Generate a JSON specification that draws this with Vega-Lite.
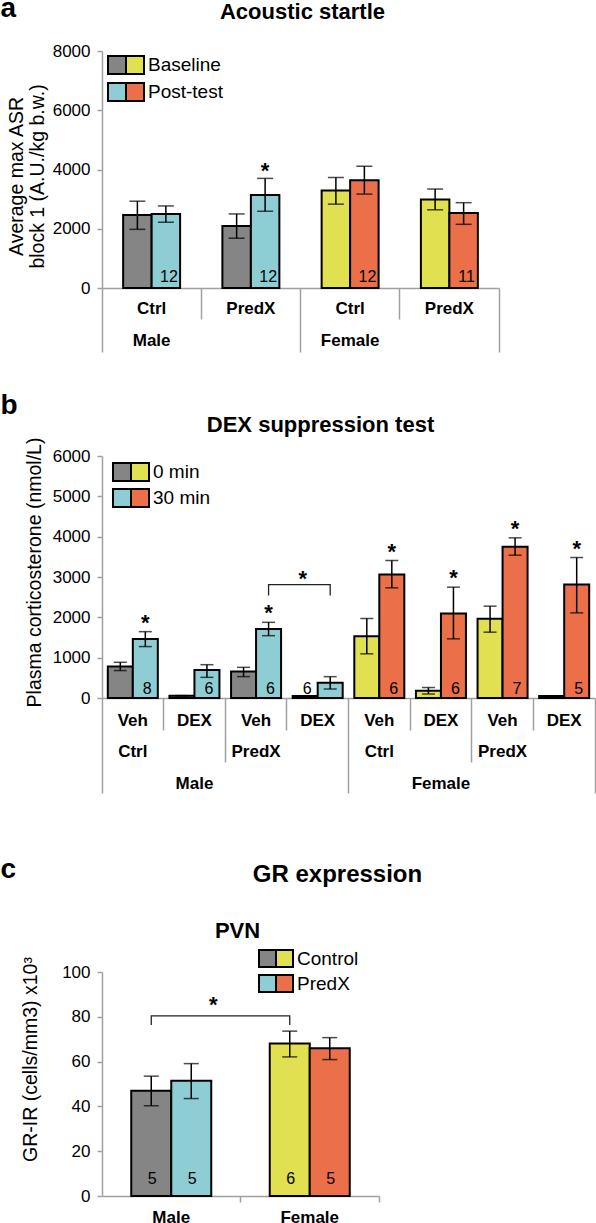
{
"$schema":"https://vega.github.io/schema/vega-lite/v6.json",
"padding":{"left":0,"top":-6,"right":0,"bottom":0},
"background":"white",
"config":{
 "font":"Liberation Sans",
 "view":{"stroke":null},
 "axis":{"grid":false,"domainColor":"#A0A0A0","domainWidth":1.5,"tickColor":"#A0A0A0","tickWidth":1.5,"labelColor":"black","titleColor":"black","labelOverlap":false},
 "axisX":{"labelAngle":0,"labelFontSize":17,"labelFontWeight":"bold","labelBaseline":"middle"},
 "axisY":{"labelFontSize":17,"tickSize":5,"labelPadding":7,"titleFontSize":19.5,"titleFontWeight":"normal"},
 "legend":{"orient":"none","symbolType":"square","symbolStrokeColor":"black","symbolStrokeWidth":2,"symbolOpacity":1,"padding":0,"rowPadding":0,"labelFontSize":19,"labelColor":"black","labelOffset":3}
},
"resolve":{"scale":{"xOffset":"independent","fill":"independent"},"legend":{"fill":"independent"}},
"datasets":{
 "A":[
  {"sex":"Male","grp":"Male|Ctrl","period":"Baseline","mean":2460,"lo":1980,"hi":2930},
  {"sex":"Male","grp":"Male|Ctrl","period":"Post-test","mean":2500,"lo":2220,"hi":2770,"n":"12"},
  {"sex":"Male","grp":"Male|PredX","period":"Baseline","mean":2090,"lo":1680,"hi":2500},
  {"sex":"Male","grp":"Male|PredX","period":"Post-test","mean":3140,"lo":2590,"hi":3700,"n":"12","star":true},
  {"sex":"Female","grp":"Female|Ctrl","period":"Baseline","mean":3290,"lo":2830,"hi":3730},
  {"sex":"Female","grp":"Female|Ctrl","period":"Post-test","mean":3640,"lo":3170,"hi":4110,"n":"12"},
  {"sex":"Female","grp":"Female|PredX","period":"Baseline","mean":2990,"lo":2640,"hi":3340},
  {"sex":"Female","grp":"Female|PredX","period":"Post-test","mean":2530,"lo":2150,"hi":2880,"n":"11"}
 ],
 "B":[
  {"sex":"Male","grp":"Male|Ctrl|Veh","period":"0 min","mean":780,"lo":680,"hi":885},
  {"sex":"Male","grp":"Male|Ctrl|Veh","period":"30 min","mean":1465,"lo":1275,"hi":1645,"n":"8","star":true},
  {"sex":"Male","grp":"Male|Ctrl|DEX","period":"0 min","mean":58,"lo":58,"hi":58},
  {"sex":"Male","grp":"Male|Ctrl|DEX","period":"30 min","mean":695,"lo":512,"hi":826,"n":"6"},
  {"sex":"Male","grp":"Male|PredX|Veh","period":"0 min","mean":655,"lo":530,"hi":760},
  {"sex":"Male","grp":"Male|PredX|Veh","period":"30 min","mean":1710,"lo":1545,"hi":1876,"n":"6","star":true},
  {"sex":"Male","grp":"Male|PredX|DEX","period":"0 min","mean":50,"lo":50,"hi":50,"n":"6"},
  {"sex":"Male","grp":"Male|PredX|DEX","period":"30 min","mean":380,"lo":223,"hi":529},
  {"sex":"Female","grp":"Female|Ctrl|Veh","period":"0 min","mean":1533,"lo":1095,"hi":1971},
  {"sex":"Female","grp":"Female|Ctrl|Veh","period":"30 min","mean":3062,"lo":2731,"hi":3409,"n":"6","star":true},
  {"sex":"Female","grp":"Female|Ctrl|DEX","period":"0 min","mean":180,"lo":99,"hi":260},
  {"sex":"Female","grp":"Female|Ctrl|DEX","period":"30 min","mean":2095,"lo":1467,"hi":2748,"n":"6","star":true},
  {"sex":"Female","grp":"Female|PredX|Veh","period":"0 min","mean":1963,"lo":1632,"hi":2277},
  {"sex":"Female","grp":"Female|PredX|Veh","period":"30 min","mean":3748,"lo":3541,"hi":3971,"n":"7","star":true},
  {"sex":"Female","grp":"Female|PredX|DEX","period":"0 min","mean":50,"lo":50,"hi":50},
  {"sex":"Female","grp":"Female|PredX|DEX","period":"30 min","mean":2814,"lo":2111,"hi":3483,"n":"5","star":true}
 ],
 "Bbracket":[
  {"grp":"Male|PredX|Veh","period":"30 min","v":2540,"o":1},
  {"grp":"Male|PredX|Veh","period":"30 min","v":2810,"o":2},
  {"grp":"Male|PredX|DEX","period":"30 min","v":2810,"o":3},
  {"grp":"Male|PredX|DEX","period":"30 min","v":2540,"o":4}
 ],
 "Bstar":[{"grp":"Male|PredX|DEX","period":"0 min","v":2810}],
 "C":[
  {"sex":"Male","grp":"Male","cond":"Control","mean":47.0,"lo":40.3,"hi":53.5,"n":"5"},
  {"sex":"Male","grp":"Male","cond":"PredX","mean":51.4,"lo":43.5,"hi":59.1,"n":"5"},
  {"sex":"Female","grp":"Female","cond":"Control","mean":68.1,"lo":62.1,"hi":73.6,"n":"6"},
  {"sex":"Female","grp":"Female","cond":"PredX","mean":66.0,"lo":60.9,"hi":70.7,"n":"5"}
 ],
 "Cbracket":[
  {"grp":"Male","cond":"Control","v":76.3,"o":1},
  {"grp":"Male","cond":"Control","v":80.4,"o":2},
  {"grp":"Female","cond":"Control","v":80.4,"o":3},
  {"grp":"Female","cond":"Control","v":76.3,"o":4}
 ],
 "Cstar":[{"grp":"Male","cond":"PredX","v":80.4}]
},
"bounds":"flush",
"spacing":168,
"vconcat":[
  {
   "width":397,"height":237,
   "data":{"name":"A"},
   "resolve":{"scale":{"fill":"independent"},"axis":{"x":"independent","y":"independent"}},
   "encoding":{
    "xOffset":{"field":"period","type":"nominal","scale":{"type":"band","domain":["Baseline","Post-test"],"paddingInner":0,"paddingOuter":0.742}}
   },
   "layer":[
    {"transform":[{"filter":"datum.sex=='Male'"}],
     "mark":{"type":"bar","stroke":"black","strokeWidth":2},
     "encoding":{
      "x":{"field":"grp","type":"nominal","scale":{"type":"band","domain":["Male|Ctrl","Male|PredX","Female|Ctrl","Female|PredX"],"paddingInner":0,"paddingOuter":0},
           "axis":{"orient":"bottom","title":null,"ticks":false,"labelExpr":"split(datum.value,'|')[1]","labelPadding":20}},
      "y":{"field":"mean","type":"quantitative","scale":{"domain":[0,8000],"nice":false},
           "axis":{"orient":"left","values":[0,2000,4000,6000,8000],"format":"d","title":["Average max ASR","block 1 (A.U./kg b.w.)"],"titlePadding":5,"titleLineHeight":21,"titleY":125}},
      "fill":{"field":"period","type":"nominal","scale":{"domain":["Baseline","Post-test"],"range":["#858585","#8FCDD5"]},
              "legend":{"title":null,"legendX":5,"legendY":4,"symbolSize":324,"labelExpr":"''","labelOffset":0,"rowPadding":1}}
     }},
    {"transform":[{"filter":"datum.sex=='Female'"}],
     "mark":{"type":"bar","stroke":"black","strokeWidth":2},
     "encoding":{
      "x":{"field":"grp","type":"nominal","scale":{"type":"band","domain":["Male|Ctrl","Male|PredX","Female|Ctrl","Female|PredX"],"paddingInner":0,"paddingOuter":0},
           "axis":{"orient":"bottom","title":null,"bandPosition":1,"domain":false,"tickSize":31,
                   "tickOpacity":{"condition":{"test":"split(datum.value,'|')[1]=='Ctrl'","value":1},"value":0},
                   "labelExpr":"split(datum.value,'|')[1]=='Ctrl' ? split(datum.value,'|')[0] : ''","labelPadding":21}},
      "y":{"field":"mean","type":"quantitative","scale":{"domain":[0,8000],"nice":false},"axis":null},
      "fill":{"field":"period","type":"nominal","scale":{"domain":["Baseline","Post-test"],"range":["#E0E050","#EB6F48"]},
              "legend":{"title":null,"legendX":23,"legendY":4,"symbolSize":324,"rowPadding":1}}
     }},
    {"mark":{"type":"rule","color":"black","strokeWidth":1.5},
     "encoding":{
      "x":{"field":"grp","type":"nominal","scale":{"type":"band","domain":["Male|Ctrl","Male|PredX","Female|Ctrl","Female|PredX"],"paddingInner":0,"paddingOuter":0},
           "axis":{"orient":"bottom","title":null,"bandPosition":1,"domain":false,"labels":false,"tickSize":64,
                   "tickOpacity":{"condition":{"test":"split(datum.value,'|')[1]=='PredX'","value":1},"value":0}}},
      "y":{"field":"lo","type":"quantitative","scale":{"domain":[0,8000],"nice":false},"axis":null},
      "y2":{"field":"hi"}
     }},
    {"mark":{"type":"tick","color":"black","thickness":1.5,"size":16},
     "encoding":{
      "x":{"field":"grp","type":"nominal","scale":{"type":"band","domain":["Male|Ctrl","Male|PredX","Female|Ctrl","Female|PredX"],"paddingInner":0,"paddingOuter":0},
           "axis":{"orient":"bottom","title":null,"bandPosition":0,"domain":false,"labels":false,"tickSize":64,
                   "tickOpacity":{"condition":{"test":"datum.value=='Male|Ctrl'","value":1},"value":0}}},
      "y":{"field":"lo","type":"quantitative","scale":{"domain":[0,8000],"nice":false},"axis":null}
     }},
    {"mark":{"type":"tick","color":"black","thickness":1.5,"size":16},
     "encoding":{
      "x":{"field":"grp","type":"nominal","scale":{"type":"band","domain":["Male|Ctrl","Male|PredX","Female|Ctrl","Female|PredX"],"paddingInner":0,"paddingOuter":0},
           "axis":{"orient":"top","labels":false,"ticks":false,"domain":false,"title":"Acoustic startle","titleX":200,"titleY":-40,"titleAlign":"center","titleBaseline":"middle","titleFontSize":22,"titleFontWeight":"bold","titleAngle":0}},
      "y":{"field":"hi","type":"quantitative","scale":{"domain":[0,8000],"nice":false},"axis":null}
     }},
    {"transform":[{"filter":"datum.n != null"}],
     "mark":{"type":"text","fontSize":16,"baseline":"alphabetic","dy":-6.5,"dx":3,"color":"black"},
     "encoding":{
      "x":{"field":"grp","type":"nominal","scale":{"type":"band","domain":["Male|Ctrl","Male|PredX","Female|Ctrl","Female|PredX"],"paddingInner":0,"paddingOuter":0},
           "axis":{"orient":"top","labels":false,"ticks":false,"domain":false,"title":"a","titleX":-102,"titleY":-35,"titleAlign":"left","titleBaseline":"alphabetic","titleFontSize":28,"titleFontWeight":"bold","titleAngle":0}},
      "y":{"datum":0,"type":"quantitative","scale":{"domain":[0,8000],"nice":false},"axis":null},
      "text":{"field":"n"}
     }},
    {"transform":[{"filter":"datum.star"}],
     "mark":{"type":"text","text":"*","fontSize":22,"fontWeight":"bold","baseline":"alphabetic","dy":0,"color":"black"},
     "encoding":{
      "x":{"field":"grp","type":"nominal","scale":{"type":"band","domain":["Male|Ctrl","Male|PredX","Female|Ctrl","Female|PredX"],"paddingInner":0,"paddingOuter":0},"axis":null},
      "y":{"field":"hi","type":"quantitative","scale":{"domain":[0,8000],"nice":false},"axis":null}
     }}
   ]
  },
  {
   "width":493,"height":242,
   "data":{"name":"B"},
   "resolve":{"scale":{"fill":"independent"},"axis":{"x":"independent","y":"independent"}},
   "encoding":{
    "xOffset":{"field":"period","type":"nominal","scale":{"type":"band","domain":["0 min","30 min"],"paddingInner":0,"paddingOuter":0.232}}
   },
   "layer":[
    {"transform":[{"filter":"datum.sex=='Male'"}],
     "mark":{"type":"bar","stroke":"black","strokeWidth":2},
     "encoding":{
      "x":{"field":"grp","type":"nominal","scale":{"type":"band","domain":["Male|Ctrl|Veh","Male|Ctrl|DEX","Male|PredX|Veh","Male|PredX|DEX","Female|Ctrl|Veh","Female|Ctrl|DEX","Female|PredX|Veh","Female|PredX|DEX"],"paddingInner":0,"paddingOuter":0},
           "axis":{"orient":"bottom","title":null,"ticks":false,"labelExpr":"split(datum.value,'|')[2]","labelPadding":22}},
      "y":{"field":"mean","type":"quantitative","scale":{"domain":[0,6000],"nice":false},
           "axis":{"orient":"left","values":[0,1000,2000,3000,4000,5000,6000],"format":"d","title":"Plasma corticosterone (nmol/L)","titlePadding":8,"titleY":116}},
      "fill":{"field":"period","type":"nominal","scale":{"domain":["0 min","30 min"],"range":["#858585","#8FCDD5"]},
              "legend":{"title":null,"legendX":10,"legendY":6,"symbolSize":324,"labelExpr":"''","labelOffset":0,"rowPadding":0}}
     }},
    {"transform":[{"filter":"datum.sex=='Female'"}],
     "mark":{"type":"bar","stroke":"black","strokeWidth":2},
     "encoding":{
      "x":{"field":"grp","type":"nominal","scale":{"type":"band","domain":["Male|Ctrl|Veh","Male|Ctrl|DEX","Male|PredX|Veh","Male|PredX|DEX","Female|Ctrl|Veh","Female|Ctrl|DEX","Female|PredX|Veh","Female|PredX|DEX"],"paddingInner":0,"paddingOuter":0},
           "axis":{"orient":"bottom","title":null,"bandPosition":1,"domain":false,"tickSize":32,
                   "tickOpacity":{"condition":{"test":"split(datum.value,'|')[2]=='Veh'","value":1},"value":0},
                   "labelExpr":"split(datum.value,'|')[2]=='Veh' ? split(datum.value,'|')[1] : ''","labelPadding":21}},
      "y":{"field":"mean","type":"quantitative","scale":{"domain":[0,6000],"nice":false},"axis":null},
      "fill":{"field":"period","type":"nominal","scale":{"domain":["0 min","30 min"],"range":["#E0E050","#EB6F48"]},
              "legend":{"title":null,"legendX":28,"legendY":6,"symbolSize":324,"rowPadding":0}}
     }},
    {"mark":{"type":"rule","color":"black","strokeWidth":1.5},
     "encoding":{
      "x":{"field":"grp","type":"nominal","scale":{"type":"band","domain":["Male|Ctrl|Veh","Male|Ctrl|DEX","Male|PredX|Veh","Male|PredX|DEX","Female|Ctrl|Veh","Female|Ctrl|DEX","Female|PredX|Veh","Female|PredX|DEX"],"paddingInner":0,"paddingOuter":0},
           "axis":{"orient":"bottom","title":null,"bandPosition":1,"domain":false,"tickSize":64,
                   "tickOpacity":{"condition":{"test":"split(datum.value,'|')[1]=='Ctrl' && split(datum.value,'|')[2]=='DEX'","value":1},"value":0},
                   "labelExpr":"(split(datum.value,'|')[1]=='Ctrl' && split(datum.value,'|')[2]=='DEX') ? split(datum.value,'|')[0] : ''","labelPadding":21}},
      "y":{"field":"lo","type":"quantitative","scale":{"domain":[0,6000],"nice":false},"axis":null},
      "y2":{"field":"hi"}
     }},
    {"mark":{"type":"tick","color":"black","thickness":1.5,"size":13},
     "encoding":{
      "x":{"field":"grp","type":"nominal","scale":{"type":"band","domain":["Male|Ctrl|Veh","Male|Ctrl|DEX","Male|PredX|Veh","Male|PredX|DEX","Female|Ctrl|Veh","Female|Ctrl|DEX","Female|PredX|Veh","Female|PredX|DEX"],"paddingInner":0,"paddingOuter":0},
           "axis":{"orient":"bottom","title":null,"bandPosition":1,"domain":false,"labels":false,"tickSize":95,
                   "tickOpacity":{"condition":{"test":"split(datum.value,'|')[1]=='PredX' && split(datum.value,'|')[2]=='DEX'","value":1},"value":0}}},
      "y":{"field":"lo","type":"quantitative","scale":{"domain":[0,6000],"nice":false},"axis":null}
     }},
    {"mark":{"type":"tick","color":"black","thickness":1.5,"size":13},
     "encoding":{
      "x":{"field":"grp","type":"nominal","scale":{"type":"band","domain":["Male|Ctrl|Veh","Male|Ctrl|DEX","Male|PredX|Veh","Male|PredX|DEX","Female|Ctrl|Veh","Female|Ctrl|DEX","Female|PredX|Veh","Female|PredX|DEX"],"paddingInner":0,"paddingOuter":0},
           "axis":{"orient":"bottom","title":null,"bandPosition":0,"domain":false,"labels":false,"tickSize":95,
                   "tickOpacity":{"condition":{"test":"datum.value=='Male|Ctrl|Veh'","value":1},"value":0}}},
      "y":{"field":"hi","type":"quantitative","scale":{"domain":[0,6000],"nice":false},"axis":null}
     }},
    {"transform":[{"filter":"datum.n != null"}],
     "mark":{"type":"text","fontSize":16,"baseline":"alphabetic","dy":-4,"dx":2,"color":"black"},
     "encoding":{
      "x":{"field":"grp","type":"nominal","scale":{"type":"band","domain":["Male|Ctrl|Veh","Male|Ctrl|DEX","Male|PredX|Veh","Male|PredX|DEX","Female|Ctrl|Veh","Female|Ctrl|DEX","Female|PredX|Veh","Female|PredX|DEX"],"paddingInner":0,"paddingOuter":0},
           "axis":{"orient":"top","labels":false,"ticks":false,"domain":false,"title":"DEX suppression test","titleX":218,"titleY":-32,"titleAlign":"center","titleBaseline":"middle","titleFontSize":22,"titleFontWeight":"bold","titleAngle":0}},
      "y":{"datum":0,"type":"quantitative","scale":{"domain":[0,6000],"nice":false},"axis":null},
      "text":{"field":"n"}
     }},
    {"transform":[{"filter":"datum.star"}],
     "mark":{"type":"text","text":"*","fontSize":22,"fontWeight":"bold","baseline":"alphabetic","dy":-2,"color":"black"},
     "encoding":{
      "x":{"field":"grp","type":"nominal","scale":{"type":"band","domain":["Male|Ctrl|Veh","Male|Ctrl|DEX","Male|PredX|Veh","Male|PredX|DEX","Female|Ctrl|Veh","Female|Ctrl|DEX","Female|PredX|Veh","Female|PredX|DEX"],"paddingInner":0,"paddingOuter":0},
           "axis":{"orient":"top","labels":false,"ticks":false,"domain":false,"title":"b","titleX":-102,"titleY":-43,"titleAlign":"left","titleBaseline":"alphabetic","titleFontSize":28,"titleFontWeight":"bold","titleAngle":0}},
      "y":{"field":"hi","type":"quantitative","scale":{"domain":[0,6000],"nice":false},"axis":null}
     }},
    {"data":{"name":"Bbracket"},
     "mark":{"type":"line","color":"#222222","strokeWidth":1.3},
     "encoding":{
      "x":{"field":"grp","type":"nominal","scale":{"type":"band","domain":["Male|Ctrl|Veh","Male|Ctrl|DEX","Male|PredX|Veh","Male|PredX|DEX","Female|Ctrl|Veh","Female|Ctrl|DEX","Female|PredX|Veh","Female|PredX|DEX"],"paddingInner":0,"paddingOuter":0},"axis":null},
      "y":{"field":"v","type":"quantitative","scale":{"domain":[0,6000],"nice":false},"axis":null},
      "order":{"field":"o","type":"quantitative"}
     }},
    {"data":{"name":"Bstar"},
     "mark":{"type":"text","text":"*","fontSize":22,"fontWeight":"bold","baseline":"alphabetic","dy":1,"dx":-2.5,"color":"black"},
     "encoding":{
      "x":{"field":"grp","type":"nominal","scale":{"type":"band","domain":["Male|Ctrl|Veh","Male|Ctrl|DEX","Male|PredX|Veh","Male|PredX|DEX","Female|Ctrl|Veh","Female|Ctrl|DEX","Female|PredX|Veh","Female|PredX|DEX"],"paddingInner":0,"paddingOuter":0},"axis":null},
      "y":{"field":"v","type":"quantitative","scale":{"domain":[0,6000],"nice":false},"axis":null}
     }}
   ]
  },
 {
  "width":277,"height":330,
  "data":{"name":"C"},
  "resolve":{"scale":{"fill":"independent"},"axis":{"x":"independent","y":"independent"}},
  "encoding":{
   "xOffset":{"field":"cond","type":"nominal","scale":{"type":"band","domain":["Control","PredX"],"paddingInner":0,"paddingOuter":0.731}}
  },
  "layer":[
   {"transform":[{"filter":"datum.sex=='Male'"}],
    "mark":{"type":"bar","stroke":"black","strokeWidth":2},
    "encoding":{
     "x":{"field":"grp","type":"nominal","scale":{"type":"band","domain":["Male","Female"],"paddingInner":0,"paddingOuter":0},
          "axis":{"orient":"bottom","title":null,"ticks":false,"labelPadding":21}},
     "y":{"field":"mean","type":"quantitative","scale":{"domain":[0,100],"nice":false,"range":[330,106]},
          "axis":{"orient":"left","values":[0,20,40,60,80,100],"format":"d","title":"GR-IR (cells/mm3) x10³","titlePadding":21,"titleY":193}},
     "fill":{"field":"cond","type":"nominal","scale":{"domain":["Control","PredX"],"range":["#858585","#8FCDD5"]},
             "legend":{"title":null,"legendX":156,"legendY":83,"symbolSize":289,"labelExpr":"''","labelOffset":0,"rowPadding":0}}
    }},
   {"transform":[{"filter":"datum.sex=='Female'"}],
    "mark":{"type":"bar","stroke":"black","strokeWidth":2},
    "encoding":{
     "x":{"field":"grp","type":"nominal","scale":{"type":"band","domain":["Male","Female"],"paddingInner":0,"paddingOuter":0},
          "axis":{"orient":"bottom","title":null,"bandPosition":1,"domain":false,"labels":false,"tickSize":6}},
     "y":{"field":"mean","type":"quantitative","scale":{"domain":[0,100],"nice":false,"range":[330,106]},"axis":null},
     "fill":{"field":"cond","type":"nominal","scale":{"domain":["Control","PredX"],"range":["#E0E050","#EB6F48"]},
             "legend":{"title":null,"legendX":173,"legendY":83,"symbolSize":289,"rowPadding":0}}
    }},
   {"mark":{"type":"rule","color":"black","strokeWidth":1.5},
    "encoding":{
     "x":{"field":"grp","type":"nominal","scale":{"type":"band","domain":["Male","Female"],"paddingInner":0,"paddingOuter":0},
          "axis":{"orient":"top","labels":false,"ticks":false,"domain":false,"title":"GR expression","titleX":235,"titleY":8,"titleAlign":"center","titleBaseline":"middle","titleFontSize":24,"titleFontWeight":"bold","titleAngle":0}},
     "y":{"field":"lo","type":"quantitative","scale":{"domain":[0,100],"nice":false,"range":[330,106]},"axis":null},
     "y2":{"field":"hi"}
    }},
   {"mark":{"type":"tick","color":"black","thickness":1.5,"size":15},
    "encoding":{
     "x":{"field":"grp","type":"nominal","scale":{"type":"band","domain":["Male","Female"],"paddingInner":0,"paddingOuter":0},
          "axis":{"orient":"top","labels":false,"ticks":false,"domain":false,"title":"PVN","titleX":135,"titleY":64,"titleAlign":"center","titleBaseline":"middle","titleFontSize":22,"titleFontWeight":"bold","titleAngle":0}},
     "y":{"field":"lo","type":"quantitative","scale":{"domain":[0,100],"nice":false,"range":[330,106]},"axis":null}
    }},
   {"mark":{"type":"tick","color":"black","thickness":1.5,"size":15},
    "encoding":{
     "x":{"field":"grp","type":"nominal","scale":{"type":"band","domain":["Male","Female"],"paddingInner":0,"paddingOuter":0},
          "axis":{"orient":"top","labels":false,"ticks":false,"domain":false,"title":"c","titleX":-102,"titleY":11,"titleAlign":"left","titleBaseline":"alphabetic","titleFontSize":28,"titleFontWeight":"bold","titleAngle":0}},
     "y":{"field":"hi","type":"quantitative","scale":{"domain":[0,100],"nice":false,"range":[330,106]},"axis":null}
    }},
   {"mark":{"type":"text","fontSize":16,"baseline":"alphabetic","dy":-12.5,"dx":1,"color":"black"},
    "encoding":{
     "x":{"field":"grp","type":"nominal","scale":{"type":"band","domain":["Male","Female"],"paddingInner":0,"paddingOuter":0},"axis":null},
     "y":{"datum":0,"type":"quantitative","scale":{"domain":[0,100],"nice":false,"range":[330,106]},"axis":null},
     "text":{"field":"n"}
    }},
   {"data":{"name":"Cbracket"},
    "mark":{"type":"line","color":"#222222","strokeWidth":1.3},
    "encoding":{
     "x":{"field":"grp","type":"nominal","scale":{"type":"band","domain":["Male","Female"],"paddingInner":0,"paddingOuter":0},"axis":null},
     "y":{"field":"v","type":"quantitative","scale":{"domain":[0,100],"nice":false,"range":[330,106]},"axis":null},
     "order":{"field":"o","type":"quantitative"}
    }},
   {"data":{"name":"Cstar"},
    "mark":{"type":"text","text":"*","fontSize":22,"fontWeight":"bold","baseline":"alphabetic","dy":-3.5,"dx":22,"color":"black"},
    "encoding":{
     "x":{"field":"grp","type":"nominal","scale":{"type":"band","domain":["Male","Female"],"paddingInner":0,"paddingOuter":0},"axis":null},
     "y":{"field":"v","type":"quantitative","scale":{"domain":[0,100],"nice":false,"range":[330,106]},"axis":null}
    }}
  ]
 }
]
}
